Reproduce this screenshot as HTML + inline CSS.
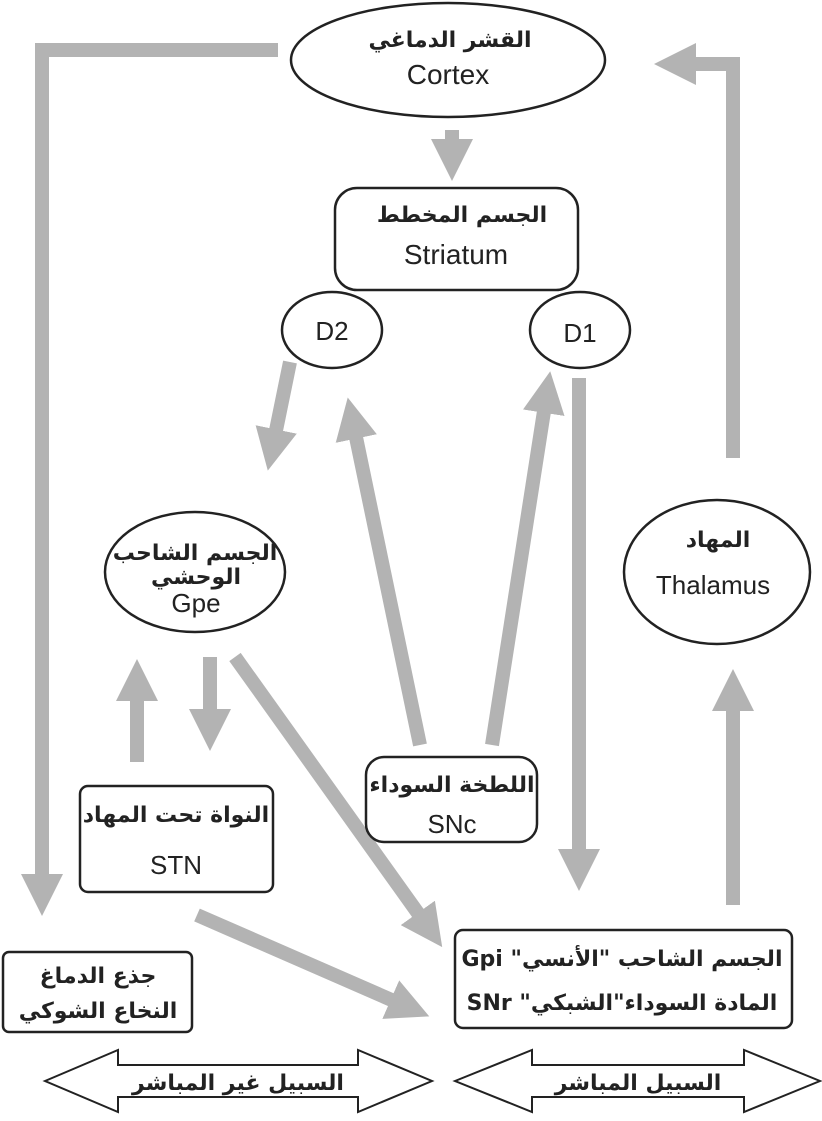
<!DOCTYPE html>
<html><head><meta charset="utf-8"><style>
body{margin:0;background:#fff}
svg{display:block}
text{font-family:"Liberation Sans","DejaVu Sans",sans-serif;fill:#222;text-anchor:middle}
.ar{font-family:"DejaVu Sans",sans-serif;font-weight:bold;font-size:22px}
</style></head><body>
<svg width="822" height="1121" viewBox="0 0 822 1121">
<defs>
<marker id="a" markerWidth="3" markerHeight="3" refX="1.5" refY="1.5" orient="auto" markerUnits="strokeWidth">
<path d="M0,0 L3,1.5 L0,3 z" fill="#b3b3b3"/>
</marker>
</defs>
<g stroke="#b3b3b3" stroke-width="14" fill="none">
<polyline points="278,50 42,50 42,895" marker-end="url(#a)"/>
<line x1="452" y1="130" x2="452" y2="160" marker-end="url(#a)"/>
<polyline points="733,458 733,64 675,64" marker-end="url(#a)"/>
<line x1="733" y1="905" x2="733" y2="690" marker-end="url(#a)"/>
<line x1="579" y1="378" x2="579" y2="870" marker-end="url(#a)"/>
<line x1="290" y1="362" x2="272" y2="450" marker-end="url(#a)"/>
<line x1="420" y1="745" x2="352" y2="418" marker-end="url(#a)"/>
<line x1="492" y1="745" x2="547" y2="392" marker-end="url(#a)"/>
<line x1="210" y1="657" x2="210" y2="730" marker-end="url(#a)"/>
<line x1="137" y1="762" x2="137" y2="680" marker-end="url(#a)"/>
<line x1="235" y1="657" x2="430" y2="930" marker-end="url(#a)"/>
<line x1="197" y1="915" x2="410" y2="1008" marker-end="url(#a)"/>
</g>
<g stroke="#222" stroke-width="2.5" fill="#fff">
<ellipse cx="448" cy="60" rx="157" ry="57"/>
<rect x="335" y="188" width="243" height="102" rx="22"/>
<ellipse cx="332" cy="330" rx="50" ry="38"/>
<ellipse cx="580" cy="330" rx="50" ry="38"/>
<ellipse cx="195" cy="572" rx="90" ry="60"/>
<ellipse cx="717" cy="572" rx="93" ry="72"/>
<rect x="80" y="786" width="193" height="106" rx="8"/>
<rect x="366" y="757" width="171" height="85" rx="18"/>
<rect x="3" y="952" width="189" height="80" rx="6"/>
<rect x="455" y="930" width="337" height="98" rx="8"/>
</g>
<g stroke="#222" stroke-width="2" fill="#fff">
<path d="M45,1081 L118,1050 L118,1065 L358,1065 L358,1050 L432,1081 L358,1112 L358,1097 L118,1097 L118,1112 Z"/>
<path d="M455,1081 L532,1050 L532,1065 L744,1065 L744,1050 L820,1081 L744,1112 L744,1097 L532,1097 L532,1112 Z"/>
</g>
<g font-size="22">
<text class="ar" x="450" y="47" direction="rtl">القشر الدماغي</text>
<text x="448" y="84" font-size="28">Cortex</text>
<text class="ar" x="462" y="222" direction="rtl">الجسم المخطط</text>
<text x="456" y="264" font-size="28">Striatum</text>
<text x="332" y="340" font-size="26">D2</text>
<text x="580" y="342" font-size="26">D1</text>
<text class="ar" x="195" y="560" direction="rtl">الجسم الشاحب</text>
<text class="ar" x="196" y="584" direction="rtl">الوحشي</text>
<text x="196" y="612" font-size="26">Gpe</text>
<text class="ar" x="718" y="547" direction="rtl">المهاد</text>
<text x="713" y="594" font-size="26">Thalamus</text>
<text class="ar" x="176" y="822" direction="rtl">النواة تحت المهاد</text>
<text x="176" y="874" font-size="26">STN</text>
<text class="ar" x="452" y="792" direction="rtl">اللطخة السوداء</text>
<text x="452" y="833" font-size="26">SNc</text>
<text class="ar" x="98" y="983" direction="rtl">جذع الدماغ</text>
<text class="ar" x="98" y="1018" direction="rtl">النخاع الشوكي</text>
<text class="ar" x="622" y="966" direction="rtl">الجسم الشاحب "الأنسي" Gpi</text>
<text class="ar" x="622" y="1010" direction="rtl">المادة السوداء"الشبكي" SNr</text>
<text class="ar" x="238" y="1090" direction="rtl">السبيل غير المباشر</text>
<text class="ar" x="638" y="1090" direction="rtl">السبيل المباشر</text>
</g>
</svg>
</body></html>
